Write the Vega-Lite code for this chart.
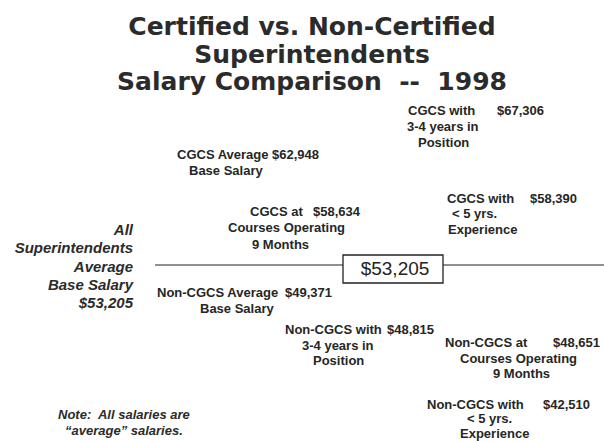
{
  "$schema": "https://vega.github.io/schema/vega-lite/v6.json",
  "width": 604,
  "height": 441,
  "autosize": "none",
  "padding": 0,
  "background": "white",
  "title": {
    "text": ["Certified vs. Non-Certified", "Superintendents", "Salary Comparison \u00a0--\u00a0 1998"],
    "anchor": "middle",
    "baseline": "top",
    "offset": 0,
    "dy": 95,
    "dx": 10,
    "font": "DejaVu Sans",
    "fontWeight": "bold",
    "fontSize": 25,
    "lineHeight": 27.5,
    "color": "#2b2b2b"
  },
  "datasets": {
    "baseline": [{"x": 155, "x2": 604, "y": 265}],
    "box": [{"x": 343, "x2": 443, "y": 255, "y2": 283, "text": "$53,205", "xc": 395, "yc": 269}],
    "labels": [
      {"text": "CGCS with", "x": 408, "y": 111},
      {"text": "$67,306", "x": 497, "y": 111},
      {"text": "3-4 years in", "x": 407, "y": 127},
      {"text": "Position", "x": 418, "y": 143},
      {"text": "CGCS Average", "x": 177, "y": 155},
      {"text": "$62,948", "x": 272, "y": 155},
      {"text": "Base Salary", "x": 189, "y": 171},
      {"text": "CGCS at", "x": 250, "y": 212},
      {"text": "$58,634", "x": 313, "y": 212},
      {"text": "Courses Operating", "x": 228, "y": 228},
      {"text": "9 Months", "x": 252, "y": 245},
      {"text": "CGCS with", "x": 447, "y": 199},
      {"text": "$58,390", "x": 530, "y": 199},
      {"text": "< 5 yrs.", "x": 452, "y": 214},
      {"text": "Experience", "x": 448, "y": 230},
      {"text": "Non-CGCS Average", "x": 157, "y": 293},
      {"text": "$49,371", "x": 285, "y": 293},
      {"text": "Base Salary", "x": 200, "y": 309},
      {"text": "Non-CGCS with", "x": 285, "y": 330},
      {"text": "$48,815", "x": 387, "y": 330},
      {"text": "3-4 years in", "x": 302, "y": 346},
      {"text": "Position", "x": 313, "y": 361},
      {"text": "Non-CGCS at", "x": 445, "y": 343},
      {"text": "$48,651", "x": 553, "y": 343},
      {"text": "Courses Operating", "x": 460, "y": 359},
      {"text": "9 Months", "x": 493, "y": 374},
      {"text": "Non-CGCS with", "x": 427, "y": 405},
      {"text": "$42,510", "x": 543, "y": 405},
      {"text": "< 5 yrs.", "x": 467, "y": 419},
      {"text": "Experience", "x": 460, "y": 434}
    ],
    "side": [
      {"text": "All", "x": 133, "y": 230},
      {"text": "Superintendents", "x": 133, "y": 248},
      {"text": "Average", "x": 133, "y": 267},
      {"text": "Base Salary", "x": 133, "y": 285},
      {"text": "$53,205", "x": 133, "y": 303}
    ],
    "note": [
      {"text": "Note:\u00a0 All salaries are", "x": 58, "y": 415},
      {"text": "\u201caverage\u201d salaries.", "x": 65, "y": 431}
    ]
  },
  "layer": [
    {
      "data": {"name": "baseline"},
      "mark": {"type": "rule", "color": "#222", "strokeWidth": 1.2},
      "encoding": {
        "x": {"field": "x", "type": "quantitative", "scale": {"domain": [0, 604], "nice": false, "zero": false}, "axis": null},
        "x2": {"field": "x2"},
        "y": {"field": "y", "type": "quantitative", "scale": {"domain": [0, 441], "reverse": true, "nice": false, "zero": false}, "axis": null}
      }
    },
    {
      "data": {"name": "box"},
      "mark": {"type": "rect", "fill": "white", "stroke": "#222", "strokeWidth": 1.3},
      "encoding": {
        "x": {"field": "x", "type": "quantitative"},
        "x2": {"field": "x2"},
        "y": {"field": "y", "type": "quantitative"},
        "y2": {"field": "y2"}
      }
    },
    {
      "data": {"name": "box"},
      "mark": {"type": "text", "font": "Liberation Sans", "fontSize": 19, "color": "#222", "align": "center", "baseline": "middle"},
      "encoding": {
        "x": {"field": "xc", "type": "quantitative"},
        "y": {"field": "yc", "type": "quantitative"},
        "text": {"field": "text"}
      }
    },
    {
      "data": {"name": "labels"},
      "mark": {"type": "text", "font": "Liberation Sans", "fontWeight": "bold", "fontSize": 13, "color": "#262626", "align": "left", "baseline": "middle"},
      "encoding": {
        "x": {"field": "x", "type": "quantitative"},
        "y": {"field": "y", "type": "quantitative"},
        "text": {"field": "text"}
      }
    },
    {
      "data": {"name": "side"},
      "mark": {"type": "text", "font": "Liberation Sans", "fontWeight": "bold", "fontStyle": "italic", "fontSize": 15, "color": "#2b2b2b", "align": "right", "baseline": "middle"},
      "encoding": {
        "x": {"field": "x", "type": "quantitative"},
        "y": {"field": "y", "type": "quantitative"},
        "text": {"field": "text"}
      }
    },
    {
      "data": {"name": "note"},
      "mark": {"type": "text", "font": "Liberation Sans", "fontWeight": "bold", "fontStyle": "italic", "fontSize": 13, "color": "#2b2b2b", "align": "left", "baseline": "middle"},
      "encoding": {
        "x": {"field": "x", "type": "quantitative"},
        "y": {"field": "y", "type": "quantitative"},
        "text": {"field": "text"}
      }
    }
  ],
  "config": {"view": {"stroke": null}}
}
